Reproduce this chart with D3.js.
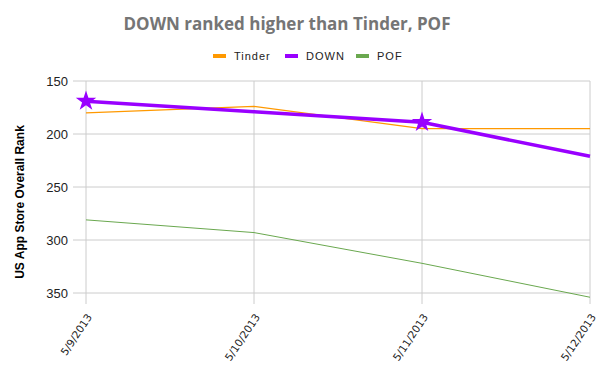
<!DOCTYPE html>
<html>
<head>
<meta charset="utf-8">
<script src="https://cdn.jsdelivr.net/npm/d3@7"></script>
<style>
  body { margin: 0; background: #fff; }
  #chart { width: 610px; height: 377px; }
  text { font-family: "Liberation Sans", Arial, sans-serif; }
</style>
</head>
<body>
<div id="chart"></div>
<script>
const dates = ["5/9/2013", "5/10/2013", "5/11/2013", "5/12/2013"];
const tinder = [180, 174, 195, 195];
const down = [169, 179, 189, 221];
const pof = [281, 293, 322, 354];
const yTicks = [150, 200, 250, 300, 350];
const starAt = [0, 2];

const width = 610, height = 377;

const svg = d3.select("#chart").append("svg")
    .attr("width", width)
    .attr("height", height);

/* SCALES */
const xScale = d3.scalePoint()
    .domain(dates)
    .range([86, 590]);

const yScale = d3.scaleLinear()
    .domain([150, 350])
    .range([81, 293]);

/* GRID */
svg.append("g")
    .selectAll("line")
    .data(yTicks)
    .enter().append("line")
    .attr("x1", 73).attr("x2", 590)
    .attr("y1", d => yScale(d)).attr("y2", d => yScale(d))
    .attr("stroke", "#cccccc").attr("stroke-width", 1);

svg.append("g")
    .selectAll("line")
    .data(dates)
    .enter().append("line")
    .attr("x1", d => xScale(d)).attr("x2", d => xScale(d))
    .attr("y1", yScale(150)).attr("y2", yScale(350) + 11)
    .attr("stroke", "#cccccc").attr("stroke-width", 1);

/* AXES */
const yAxis = svg.append("g")
    .attr("transform", "translate(68,0)")
    .call(d3.axisLeft(yScale).tickValues(yTicks).tickSize(0).tickPadding(0));
yAxis.select(".domain").remove();
yAxis.selectAll("text")
    .attr("fill", "#222")
    .style("font-size", "13px");

const xAxis = svg.append("g")
    .attr("transform", `translate(3,${yScale(350) + 22})`)
    .call(d3.axisBottom(xScale).tickSize(0).tickPadding(0));
xAxis.select(".domain").remove();
xAxis.selectAll("text")
    .attr("fill", "#222")
    .style("font-family", "'DejaVu Sans', sans-serif")
    .style("font-size", "10.5px")
    .attr("text-anchor", "end")
    .attr("y", 0)
    .attr("dy", "0.35em")
    .attr("transform", "rotate(-56)");

/* LINES */
const line = d3.line()
    .x((d, i) => xScale(dates[i]))
    .y(d => yScale(d));

svg.append("path").datum(tinder)
    .attr("d", line).attr("fill", "none")
    .attr("stroke", "#ff9900").attr("stroke-width", 1.2);

svg.append("path").datum(pof)
    .attr("d", line).attr("fill", "none")
    .attr("stroke", "#6aa84f").attr("stroke-width", 1);

svg.append("path").datum(down)
    .attr("d", line).attr("fill", "none")
    .attr("stroke", "#9900ff").attr("stroke-width", 3.5);

const star = d3.symbol().type(d3.symbolStar).size(130);
svg.selectAll(".star")
    .data(starAt)
    .enter().append("path")
    .attr("class", "star")
    .attr("d", star)
    .attr("transform", i => `translate(${xScale(dates[i])},${yScale(down[i])})`)
    .attr("fill", "#9900ff");

/* TITLE */
svg.append("text")
    .attr("x", 287).attr("y", 30)
    .attr("text-anchor", "middle")
    .style("font-family", "'Open Sans', sans-serif")
    .style("font-weight", "bold")
    .style("font-size", "17px")
    .attr("fill", "#757575")
    .text("DOWN ranked higher than Tinder, POF");

/* LEGEND */
const legend = [
    {name: "Tinder", color: "#ff9900", x: 213},
    {name: "DOWN", color: "#9900ff", x: 285},
    {name: "POF", color: "#6aa84f", x: 356}
];
const lg = svg.selectAll(".legend")
    .data(legend)
    .enter().append("g")
    .attr("transform", d => `translate(${d.x},56)`);
lg.append("rect")
    .attr("x", 0).attr("y", -2).attr("width", 13).attr("height", 4)
    .attr("fill", d => d.color);
lg.append("text")
    .attr("x", 21).attr("y", 4)
    .style("font-size", "11px")
    .style("letter-spacing", "1px")
    .attr("fill", "#222")
    .text(d => d.name);

/* AXIS LABEL */
svg.append("text")
    .attr("transform", "rotate(-90)")
    .attr("x", -202).attr("y", 24)
    .attr("text-anchor", "middle")
    .style("font-weight", "bold")
    .style("font-size", "12px")
    .attr("fill", "#000")
    .text("US App Store Overall Rank");
</script>
</body>
</html>
